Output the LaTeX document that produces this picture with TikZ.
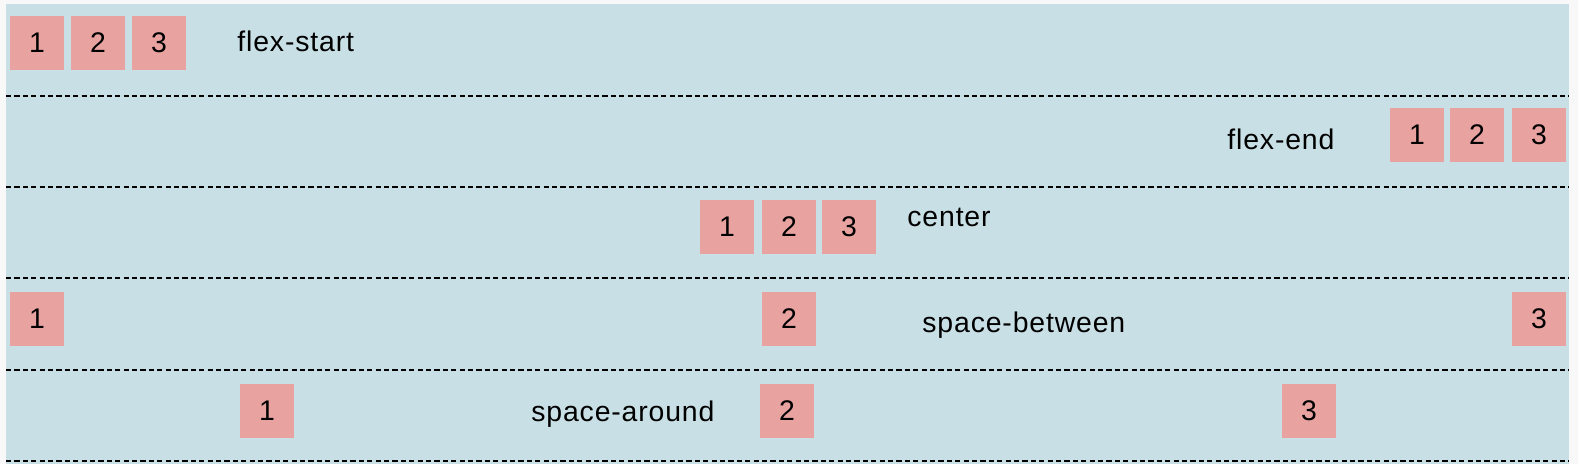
\documentclass[tikz,border=0pt]{standalone}
\usepackage{fontspec}
\setmainfont{Liberation Sans}[LetterSpace=3]
\definecolor{pagebg}{RGB}{248,248,248}
\definecolor{rowbg}{RGB}{200,223,229}
\definecolor{itembg}{RGB}{232,163,161}
\tikzset{
  item/.style={fill=itembg, minimum size=27pt, inner sep=0pt, font=\fontsize{14.2}{16}\selectfont},
  tag/.style={anchor=base west, inner sep=0pt, font=\fontsize{14.2}{16}\selectfont},
  rowline/.style={dash pattern=on 2.6pt off 1.6pt, line width=0.95pt},
}
\begin{document}
\begin{tikzpicture}[x=0.5pt,y=-0.5pt]
    \fill[pagebg] (0,0) rectangle (1578,464);
    \useasboundingbox (0,0) rectangle (1578,464);
    \fill[rowbg] (6,4) rectangle (1569,464);
    %
    \node[item] (fs1) at (37,43) {1};
    \node[item] (fs2) at (98,43) {2};
    \node[item] (fs3) at (159,43) {3};
    \node[tag] (fslabel) at (237,52) {flex-start};
    \draw[rowline] (6,96) -- (1569,96);
    %
    \node[item] (fe1) at (1417,135) {1};
    \node[item] (fe2) at (1477,135) {2};
    \node[item] (fe3) at (1539,135) {3};
    \node[tag] (felabel) at (1227,150) {flex-end};
    \draw[rowline] (6,187) -- (1569,187);
    %
    \node[item] (ce1) at (727,227) {1};
    \node[item] (ce2) at (789,227) {2};
    \node[item] (ce3) at (849,227) {3};
    \node[tag] (celabel) at (907,227) {center};
    \draw[rowline] (6,278) -- (1569,278);
    %
    \node[item] (sb1) at (37,319) {1};
    \node[item] (sb2) at (789,319) {2};
    \node[item] (sb3) at (1539,319) {3};
    \node[tag] (sblabel) at (922,333) {space-between};
    \draw[rowline] (6,370) -- (1569,370);
    %
    \node[item] (sa1) at (267,411) {1};
    \node[item] (sa2) at (787,411) {2};
    \node[item] (sa3) at (1309,411) {3};
    \node[tag] (salabel) at (531,421) {space-around};
    \draw[rowline] (6,461) -- (1569,461);
  \end{tikzpicture}
\end{document}
